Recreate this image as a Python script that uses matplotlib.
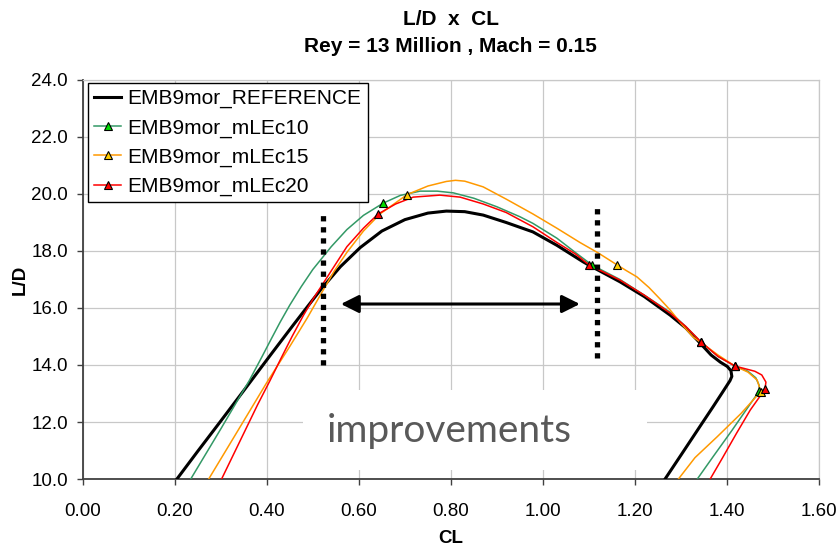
import matplotlib
matplotlib.use("Agg")
import matplotlib.pyplot as plt
from matplotlib.lines import Line2D
from matplotlib.patches import Rectangle

# -----------------------------------------------------------------------------
# Data (CL, L/D)
# -----------------------------------------------------------------------------
ref_cl = [0.205, 0.25, 0.30, 0.364, 0.41, 0.457, 0.49, 0.518, 0.56, 0.603, 0.65, 0.70, 0.75, 0.79,
          0.83, 0.87, 0.92, 0.978, 1.03, 1.087, 1.10, 1.167, 1.22, 1.276, 1.31, 1.341, 1.365, 1.385,
          1.400, 1.408, 1.410, 1.406, 1.39, 1.369, 1.341, 1.30, 1.265]
ref_ld = [10.0, 10.97, 12.03, 13.40, 14.39, 15.39, 16.08, 16.66, 17.45, 18.12, 18.7, 19.1, 19.33, 19.4,
          19.38, 19.26, 19.0, 18.67, 18.2, 17.62, 17.5, 16.92, 16.4, 15.75, 15.3, 14.77, 14.35, 14.1,
          13.95, 13.8, 13.6, 13.45, 13.05, 12.53, 11.85, 10.85, 10.0]

c10_cl = [0.235, 0.30, 0.34, 0.362, 0.39, 0.41, 0.429, 0.45, 0.475, 0.50, 0.54, 0.574, 0.61, 0.653,
          0.69, 0.733, 0.77, 0.805, 0.85, 0.90, 0.95, 0.978, 1.03, 1.07, 1.106, 1.167, 1.22, 1.276,
          1.31, 1.343, 1.38, 1.417, 1.445, 1.462, 1.469, 1.470, 1.44, 1.41, 1.37, 1.335]
c10_ld = [10.0, 11.75, 12.85, 13.45, 14.3, 14.92, 15.5, 16.1, 16.75, 17.35, 18.15, 18.75, 19.25, 19.68,
          19.95, 20.1, 20.1, 20.04, 19.85, 19.55, 19.2, 18.97, 18.45, 17.95, 17.51, 17.0, 16.45, 15.85,
          15.35, 14.81, 14.3, 13.96, 13.78, 13.55, 13.3, 13.1, 12.4, 11.7, 10.8, 10.0]
c10_mk_cl = [0.653, 1.106, 1.343, 1.417, 1.470]
c10_mk_ld = [19.68, 17.51, 14.81, 13.96, 13.1]

c15_cl = [0.274, 0.33, 0.40, 0.45, 0.488, 0.518, 0.546, 0.574, 0.61, 0.646, 0.705, 0.75, 0.79, 0.81,
          0.83, 0.87, 0.92, 0.978, 1.03, 1.08, 1.12, 1.161, 1.18, 1.204, 1.23, 1.255, 1.276, 1.30,
          1.326, 1.343, 1.38, 1.417, 1.445, 1.465, 1.473, 1.43, 1.378, 1.33, 1.294]
c15_ld = [10.0, 11.5, 13.38, 14.65, 15.65, 16.5, 17.28, 17.95, 18.7, 19.3, 19.98, 20.28, 20.44, 20.48,
          20.45, 20.25, 19.82, 19.3, 18.8, 18.3, 17.93, 17.51, 17.32, 17.09, 16.72, 16.3, 15.93, 15.45,
          14.98, 14.79, 14.35, 13.96, 13.75, 13.47, 13.07, 12.3, 11.48, 10.75, 10.0]
c15_mk_cl = [0.705, 1.161, 1.343, 1.417, 1.473]
c15_mk_ld = [19.98, 17.51, 14.79, 13.96, 13.07]

c20_cl = [0.302, 0.35, 0.38, 0.407, 0.43, 0.455, 0.48, 0.50, 0.518, 0.546, 0.574, 0.61, 0.642, 0.68,
          0.718, 0.776, 0.82, 0.87, 0.92, 0.978, 1.03, 1.07, 1.10, 1.167, 1.22, 1.276, 1.31, 1.343,
          1.38, 1.417, 1.434, 1.46, 1.475, 1.484, 1.482, 1.45, 1.42, 1.39, 1.363]
c20_ld = [10.0, 11.6, 12.6, 13.45, 14.2, 15.0, 15.75, 16.3, 16.75, 17.45, 18.15, 18.8, 19.3, 19.65,
          19.89, 19.96, 19.89, 19.65, 19.35, 18.85, 18.3, 17.9, 17.51, 16.98, 16.45, 15.82, 15.35, 14.81,
          14.3, 13.96, 13.89, 13.78, 13.65, 13.4, 13.15, 12.42, 11.6, 10.75, 10.0]
c20_mk_cl = [0.642, 1.10, 1.343, 1.417, 1.482]
c20_mk_ld = [19.3, 17.51, 14.81, 13.96, 13.15]

labels = ["EMB9mor_REFERENCE", "EMB9mor_mLEc10", "EMB9mor_mLEc15", "EMB9mor_mLEc20"]
x_ticks = [0.0, 0.2, 0.4, 0.6, 0.8, 1.0, 1.2, 1.4, 1.6]
y_ticks = [10.0, 12.0, 14.0, 16.0, 18.0, 20.0, 22.0, 24.0]

# annotation positions (CL, L/D)
dots_left = (0.523, 14.0, 19.45)
dots_right = (1.118, 14.25, 19.65)
arrow_y = 16.14
arrow_x = (0.561, 1.080)
box_x = (0.479, 1.226)
box_y = (10.32, 13.12)
note_xy = (0.796, 11.30)

# -----------------------------------------------------------------------------
# Plot
# -----------------------------------------------------------------------------
plt.rcParams['font.family'] = ['Liberation Sans', 'DejaVu Sans']

fig = plt.figure(figsize=(8.37, 5.49), dpi=100)
ax = fig.add_axes([0.0986, 0.1275, 0.8803, 0.7268])

grid_col = '#c8c8c8'
ax.set_axisbelow(True)
ax.grid(True, color=grid_col, lw=0.9)

# white box behind the "improvements" note
ax.add_patch(Rectangle((box_x[0], box_y[0]), box_x[1] - box_x[0], box_y[1] - box_y[0],
                       facecolor='white', edgecolor='none', zorder=1))
ax.text(note_xy[0], note_xy[1], 'improvements', family='Lato', fontsize=28, color='#595959',
        ha='center', va='baseline', zorder=2)

ax.plot(ref_cl, ref_ld, color='black', lw=2.2, zorder=3, solid_joinstyle='round')
ax.plot(c10_cl, c10_ld, color='#339966', lw=1.1, zorder=4, solid_joinstyle='round')
ax.plot(c15_cl, c15_ld, color='#ff9900', lw=1.1, zorder=4, solid_joinstyle='round')
ax.plot(c20_cl, c20_ld, color='#ff0000', lw=1.1, zorder=4, solid_joinstyle='round')

mk = dict(marker='^', markersize=5.5, markeredgecolor='black', markeredgewidth=0.8, linestyle='none', zorder=5)
ax.plot(c10_mk_cl, c10_mk_ld, markerfacecolor='#00dd00', **mk)
ax.plot(c15_mk_cl, c15_mk_ld, markerfacecolor='#ffcc00', **mk)
ax.plot(c20_mk_cl, c20_mk_ld, markerfacecolor='#ff0000', **mk)

# dotted range markers and arrow
for xd, y0, y1 in [dots_left, dots_right]:
    ax.plot([xd, xd], [y0, y1], color='black', lw=3.8, linestyle=(0, (1, 1.1)),
            dash_capstyle='butt', zorder=6)
ax.annotate('', xy=(arrow_x[1], arrow_y), xytext=(arrow_x[0], arrow_y),
            arrowprops=dict(arrowstyle='<|-|>', color='black', lw=2.2, mutation_scale=27,
                            shrinkA=0, shrinkB=0), zorder=6)

ax.set_xlim(0, 1.6)
ax.set_ylim(10, 24)
ax.set_xticks(x_ticks)
ax.set_yticks(y_ticks)
ax.set_xticklabels([f"{v:.2f}" for v in x_ticks])
ax.set_yticklabels([f"{v:.1f}" for v in y_ticks])
ax.tick_params(axis='x', direction='out', length=4, width=1, colors='#404040', labelcolor='black',
               labelsize=13.5, pad=13.5)
ax.tick_params(axis='y', direction='out', length=4, width=1, colors='#404040', labelcolor='black',
               labelsize=13.5, pad=6.5)

for s in ['left', 'bottom']:
    ax.spines[s].set_color('#404040')
    ax.spines[s].set_linewidth(1.3)
for s in ['top', 'right']:
    ax.spines[s].set_color(grid_col)
    ax.spines[s].set_linewidth(0.9)

ax.set_xlabel('CL', fontsize=13.5, fontweight='bold', labelpad=7)
ax.set_ylabel('L/D', fontsize=13.5, fontweight='bold', labelpad=2)
ax.set_title('L/D  x  CL\nRey = 13 Million , Mach = 0.15', fontsize=15, fontweight='bold',
             linespacing=1.55, pad=20)

handles = [
    Line2D([], [], color='black', lw=2.2),
    Line2D([], [], color='#339966', lw=1.1, marker='^', markersize=5.5,
           markerfacecolor='#00dd00', markeredgecolor='black', markeredgewidth=0.8),
    Line2D([], [], color='#ff9900', lw=1.1, marker='^', markersize=5.5,
           markerfacecolor='#ffcc00', markeredgecolor='black', markeredgewidth=0.8),
    Line2D([], [], color='#ff0000', lw=1.1, marker='^', markersize=5.5,
           markerfacecolor='#ff0000', markeredgecolor='black', markeredgewidth=0.8),
]
leg = ax.legend(handles, labels, loc='upper left', bbox_to_anchor=(0.0075, 0.9925),
                borderaxespad=0, fontsize=15, frameon=True, fancybox=False, framealpha=1,
                edgecolor='black', borderpad=0.3, labelspacing=0.48, handlelength=1.3,
                handletextpad=0.3)
leg.get_frame().set_linewidth(1.0)
leg.set_zorder(10)

fig.savefig('out.png', dpi=100)
